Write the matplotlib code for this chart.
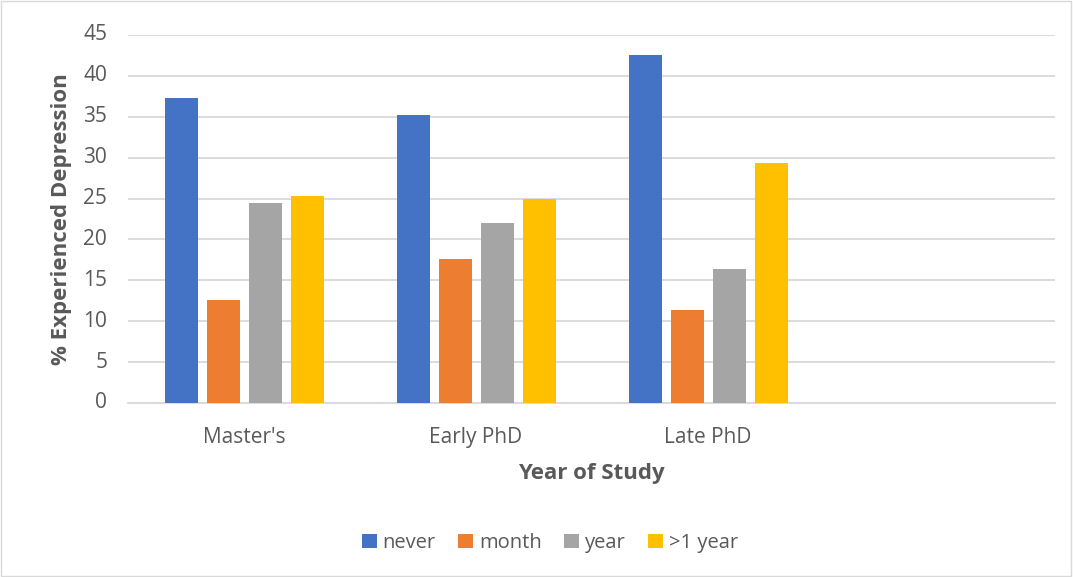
import matplotlib.pyplot as plt
import numpy as np
from matplotlib.patches import Rectangle

# survey results, % who experienced depression by year of study
categories = ["Master's", "Early PhD", "Late PhD", ""]
series = ["never", "month", "year", ">1 year"]
never = [37.3, 35.2, 42.6, np.nan]
month = [12.6, 17.6, 11.4, np.nan]
year = [24.5, 22.0, 16.4, np.nan]
over_year = [25.3, 24.9, 29.4, np.nan]
colors = ["#4472C4", "#ED7D31", "#A5A5A5", "#FFC000"]
text_color = "#595959"

plt.rcParams["font.family"] = ["Open Sans", "DejaVu Sans"]

fig = plt.figure(figsize=(10.73, 5.77), dpi=100)
ax = fig.add_axes([128 / 1073, 1 - 403 / 577, 927 / 1073, 368 / 577])

x = np.arange(len(categories))
width = 0.142
step = 0.181
for i, (vals, name) in enumerate(zip([never, month, year, over_year], series)):
    ax.bar(x + (i - 1.5) * step + 0.004, vals, width, color=colors[i], label=name, zorder=3)

ax.set_xlim(-0.5, len(categories) - 0.5)
ax.set_ylim(0, 45)
ax.set_yticks(np.arange(0, 50, 5))
ax.set_xticks(x)
ax.set_xticklabels(categories)
ax.tick_params(length=0, labelsize=15, colors=text_color)
ax.tick_params(axis="y", pad=15)
ax.tick_params(axis="x", pad=25)
ax.grid(axis="y", color="#d9d9d9", linewidth=1.3, zorder=0)
for side in ["top", "right", "left"]:
    ax.spines[side].set_visible(False)
ax.spines["bottom"].set_color("#d9d9d9")
ax.spines["bottom"].set_linewidth(1.3)
for lbl in ax.get_xticklabels():
    lbl.set_va("center")
for lbl in ax.get_yticklabels():
    lbl.set_va("center")

fig.text(62 / 1073, 1 - 219 / 577, "% Experienced Depression", rotation=90,
         ha="center", va="center", fontsize=16, fontweight="bold", color=text_color)
fig.text(591 / 1073, 1 - 473 / 577, "Year of Study", ha="center", va="center",
         fontsize=16, fontweight="bold", color=text_color)

fig.legend(loc="center", bbox_to_anchor=(550 / 1073, 1 - 543 / 577), ncol=4,
           frameon=False, fontsize=14.5, labelcolor=text_color, handlelength=0.75,
           handleheight=0.75, handletextpad=0.3, columnspacing=1.1)

fig.patches.append(Rectangle((0.001, 0.002), 0.997, 0.996, transform=fig.transFigure,
                             fill=False, edgecolor="#d9d9d9", linewidth=1))

fig.savefig("out.png", dpi=100)
